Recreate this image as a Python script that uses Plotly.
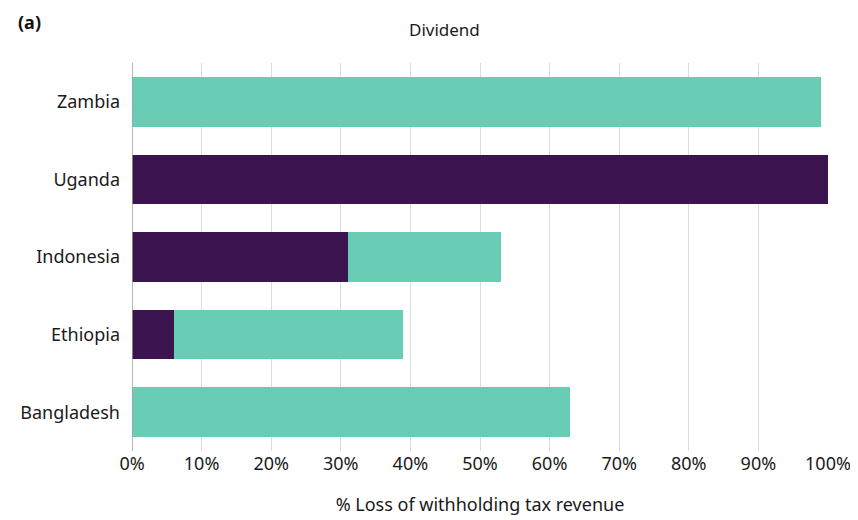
import plotly.graph_objects as go

countries = ["Zambia", "Uganda", "Indonesia", "Ethiopia", "Bangladesh"]
dark_values = [0, 100, 31, 6, 0]
teal_values = [99, 0, 22, 33, 63]
tick_vals = [0, 10, 20, 30, 40, 50, 60, 70, 80, 90, 100]
tick_text = [f"{v}%" for v in tick_vals]

FONT = "Noto Sans"
L, R, T, B = 117, 38, 55, 77
PW = 858 - L - R
PH = 520 - T - B
fig = go.Figure()
fig.add_trace(go.Bar(y=countries, x=dark_values, orientation="h",
                     marker=dict(color="#3c1450", line=dict(width=0)), name="A", width=0.64))
fig.add_trace(go.Bar(y=countries, x=teal_values, orientation="h",
                     marker=dict(color="#68cdb4", line=dict(width=0)), name="B", width=0.64))

fig.update_layout(
    barmode="stack",
    width=858, height=520,
    margin=dict(l=L, r=R, t=T, b=B),
    paper_bgcolor="white", plot_bgcolor="white",
    showlegend=False,
    font=dict(family=FONT, size=18, color="#1a1a1a"),
    xaxis=dict(range=[0, 100], tickvals=tick_vals, ticktext=tick_text,
               showgrid=True, gridcolor="#dcdcdc", gridwidth=1,
               zeroline=False, showline=False, ticks="", ticklen=0,
               tickfont=dict(size=18, family=FONT, color="#1a1a1a"),
               title=dict(text="% Loss of withholding tax revenue", standoff=24,
                          font=dict(size=18, family=FONT, color="#1a1a1a"))),
    yaxis=dict(categoryorder="array", categoryarray=countries[::-1],
               range=[-0.5, 4.5],
               showgrid=False, zeroline=False, showline=False, ticks="",
               ticklabelstandoff=11,
               tickfont=dict(size=18, family=FONT, color="#1a1a1a")),
    shapes=[dict(type="line", xref="x", yref="paper", x0=0, x1=0, y0=0, y1=1,
                 line=dict(color="#a0a0a0", width=1.5))],
    annotations=[
        dict(text="<b>(a)</b>", xref="paper", yref="paper", x=-L/PW, y=1 + T/PH,
             xanchor="left", yanchor="top", showarrow=False,
             font=dict(size=18, family=FONT, color="#111")),
        dict(text="Dividend", xref="paper", yref="paper", x=(433-L)/PW, y=1 + (T-21)/PH,
             xanchor="center", yanchor="middle", showarrow=False,
             font=dict(size=17, family=FONT, color="#1a1a1a")),
    ],
)

fig.write_html("out.html")
